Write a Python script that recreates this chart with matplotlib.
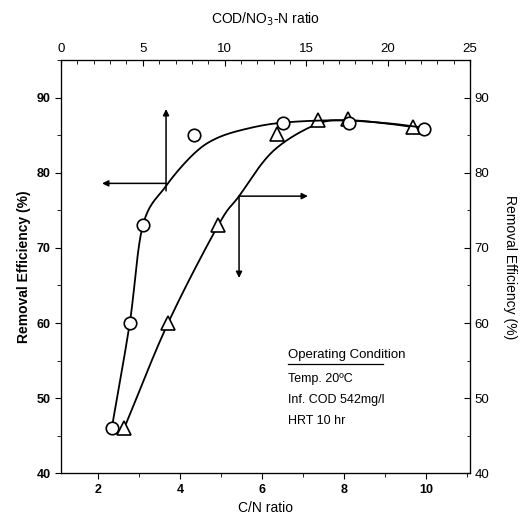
import numpy as np
import matplotlib.pyplot as plt
from matplotlib.ticker import MultipleLocator

plt.rcParams['font.family'] = ['Liberation Sans', 'DejaVu Sans']

# circles: plotted against COD/NO3-N ratio (top axis), left y
cod_ratio = [3.1, 4.2, 5.0, 8.1, 13.6, 17.6, 22.2]
cod_eff = [46, 60, 73, 85, 86.7, 86.7, 85.9]
# triangles: plotted against C/N ratio (bottom axis), right y
cn_ratio = [2.64, 3.71, 4.93, 6.37, 7.37, 8.1, 9.69]
cn_eff = [46, 60, 73, 85.2, 87, 87.2, 86.1]

# fitted curves
cod_curve_x = [3.1, 4.2, 5.0, 6.4, 8.1, 9.5, 11.4, 13.6, 17.0, 20.0, 22.2]
cod_curve_y = [46, 60, 73, 78.2, 82.5, 84.6, 85.9, 86.7, 87.0, 86.6, 86.0]
cn_curve_x = [2.64, 3.71, 4.93, 5.44, 6.27, 7.34, 8.1, 9.0, 9.69]
cn_curve_y = [46, 60, 73, 76.9, 82.9, 86.5, 87.0, 86.6, 86.1]


def smooth(xs, ys, n=20):
    # Catmull-Rom through the control points
    p = np.column_stack([xs, ys]).astype(float)
    p = np.vstack([2 * p[0] - p[1], p, 2 * p[-1] - p[-2]])
    out = []
    t = np.linspace(0, 1, n, endpoint=False)[:, None]
    for i in range(1, len(p) - 2):
        p0, p1, p2, p3 = p[i - 1], p[i], p[i + 1], p[i + 2]
        seg = 0.5 * ((2 * p1) + (-p0 + p2) * t + (2 * p0 - 5 * p1 + 4 * p2 - p3) * t ** 2
                     + (-p0 + 3 * p1 - 3 * p2 + p3) * t ** 3)
        out.append(seg)
    out.append(p[-2][None, :])
    out = np.vstack(out)
    return out[:, 0], out[:, 1]


fig = plt.figure(figsize=(5.31, 5.24), dpi=100)
ax = fig.add_axes([0.115, 0.097, 0.77, 0.788])
axt = ax.twiny()
axr = ax.twinx()

ax.set_xlim(1.1, 11.07)
ax.set_ylim(40, 95)
axr.set_ylim(40, 95)
axt.set_xlim(0, 25)

cx, cy = smooth(cod_curve_x, cod_curve_y)
axt.plot(cx, cy, color='black', lw=1.3)
axt.plot(cod_ratio, cod_eff, 'o', ms=9, mfc='white', mec='black', mew=1.2)

tx, ty = smooth(cn_curve_x, cn_curve_y)
ax.plot(tx, ty, color='black', lw=1.3, zorder=2)
ax.plot(cn_ratio, cn_eff, '^', ms=10.5, mfc='white', mec='black', mew=1.2, zorder=3)

arrow = dict(arrowstyle='-|>', color='black', lw=1.1, mutation_scale=9, shrinkA=0, shrinkB=0)
ax.annotate('', xy=(3.66, 88.5), xytext=(3.66, 77.6), arrowprops=arrow)
ax.annotate('', xy=(2.1, 78.6), xytext=(3.66, 78.6), arrowprops=arrow)
ax.annotate('', xy=(7.12, 76.9), xytext=(5.44, 76.9), arrowprops=arrow)
ax.annotate('', xy=(5.44, 66.0), xytext=(5.44, 76.9), arrowprops=arrow)

ax.text(6.64, 55.7, 'Operating Condition', fontsize=9.5, va='center', ha='left')
ax.plot([6.64, 8.95], [54.5, 54.5], color='black', lw=0.9)
ax.text(6.64, 52.6, 'Temp. 20ºC', fontsize=9, va='center', ha='left')
ax.text(6.64, 49.7, 'Inf. COD 542mg/l', fontsize=9, va='center', ha='left')
ax.text(6.64, 46.9, 'HRT 10 hr', fontsize=9, va='center', ha='left')

ax.xaxis.set_major_locator(MultipleLocator(2))
ax.xaxis.set_minor_locator(MultipleLocator(1))
ax.yaxis.set_major_locator(MultipleLocator(10))
ax.yaxis.set_minor_locator(MultipleLocator(5))
axr.yaxis.set_major_locator(MultipleLocator(10))
axr.yaxis.set_minor_locator(MultipleLocator(5))
axt.xaxis.set_major_locator(MultipleLocator(5))
axt.xaxis.set_minor_locator(MultipleLocator(1))

ax.tick_params(which='both', direction='out', labelsize=9)
ax.tick_params(which='major', length=4)
ax.tick_params(which='minor', length=3)
axr.tick_params(which='both', direction='in', labelsize=9.5)
axr.tick_params(which='major', length=4)
axt.tick_params(which='both', direction='in', labelsize=9.5)
axt.tick_params(which='major', length=4)
axt.tick_params(which='minor', length=3)
for lab in ax.get_xticklabels() + ax.get_yticklabels():
    lab.set_fontweight('bold')

ax.set_xlabel('C/N ratio', fontsize=10)
ax.set_ylabel('Removal Efficiency (%)', fontsize=10, fontweight='bold')
axr.set_ylabel('Removal Efficiency (%)', fontsize=10, rotation=270, labelpad=20)
axt.set_xlabel('COD/NO$_3$-N ratio', fontsize=10, labelpad=14)

plt.savefig('out.png', dpi=100)
